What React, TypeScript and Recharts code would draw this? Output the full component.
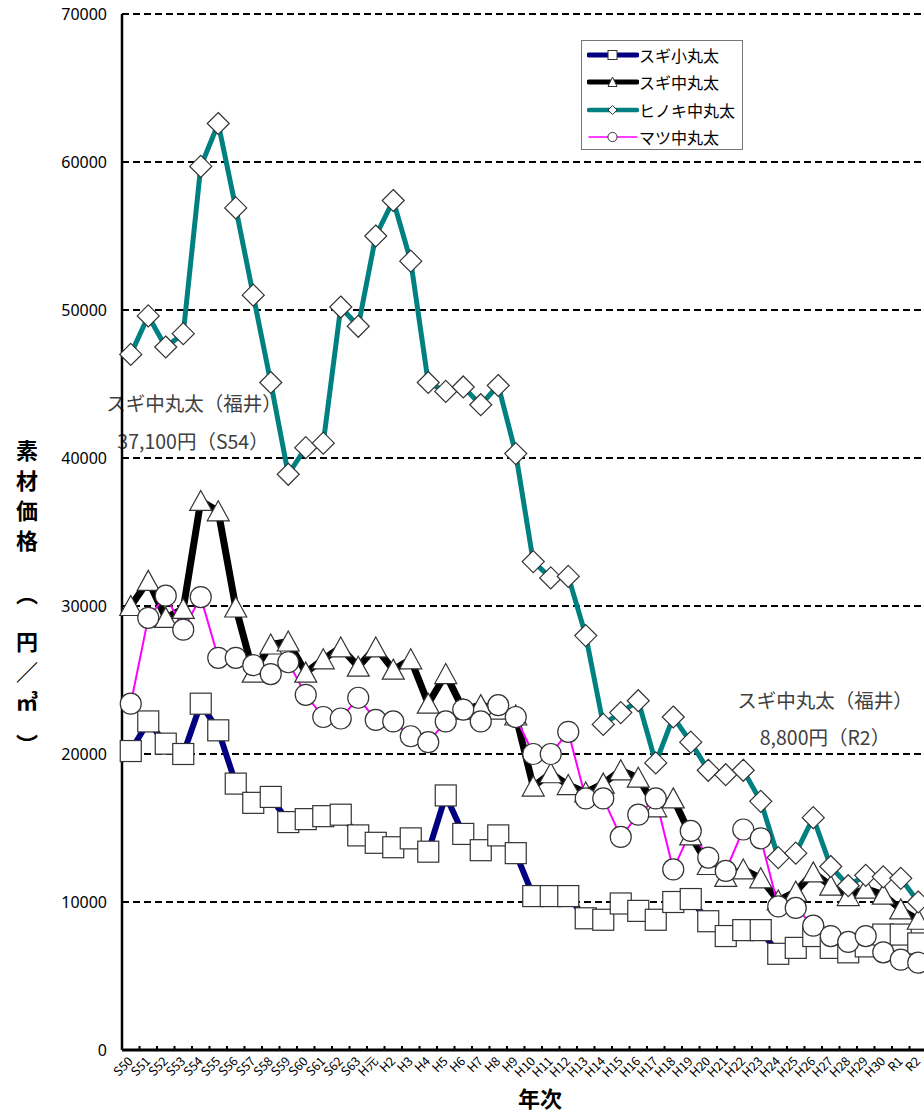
import React from "react";
import { CartesianGrid, Legend, Line, LineChart, XAxis, YAxis } from "recharts";

const FONT = '"Noto Sans CJK JP", "Noto Sans", sans-serif';

const years = [
  "S50", "S51", "S52", "S53", "S54", "S55", "S56", "S57", "S58", "S59",
  "S60", "S61", "S62", "S63", "H元", "H2", "H3", "H4", "H5", "H6",
  "H7", "H8", "H9", "H10", "H11", "H12", "H13", "H14", "H15", "H16",
  "H17", "H18", "H19", "H20", "H21", "H22", "H23", "H24", "H25", "H26",
  "H27", "H28", "H29", "H30", "R1", "R2",
];

// スギ小丸太
const sugiSmall = [
  20200, 22200, 20700, 20000, 23400, 21600, 18000, 16700, 17100, 15400,
  15600, 15800, 15900, 14500, 14000, 13700, 14300, 13400, 17200, 14600,
  13500, 14500, 13300, 10400, 10400, 10400, 8900, 8800, 9900, 9400,
  8800, 10000, 10200, 8700, 7700, 8100, 8100, 6500, 6900, 7700,
  6900, 6600, 7000, 7800, 7800, 7200,
];

// スギ中丸太
const sugiMedium = [
  30000, 31700, 29200, 29800, 37100, 36400, 29900, 25500, 27400, 27600,
  25500, 26400, 27200, 25900, 27200, 25700, 26400, 23400, 25400, 23000,
  23300, 23000, 22600, 17800, 18700, 17900, 17400, 18000, 18900, 18400,
  16400, 17000, 14500, 12500, 11700, 12200, 11600, 10100, 10700, 12000,
  11100, 10400, 10900, 10500, 9500, 8800,
];

// ヒノキ中丸太
const hinoki = [
  47000, 49600, 47500, 48400, 59700, 62600, 56900, 51000, 45100, 38900,
  40700, 41000, 50200, 48900, 55000, 57400, 53300, 45100, 44500, 44800,
  43600, 44900, 40300, 33000, 31900, 32000, 28000, 22000, 22800, 23600,
  19400, 22500, 20800, 18900, 18600, 18900, 16800, 13000, 13300, 15700,
  12400, 11100, 11800, 11700, 11600, 10000,
];

// マツ中丸太
const matsu = [
  23400, 29200, 30700, 28400, 30600, 26500, 26500, 26000, 25400, 26200,
  24000, 22500, 22400, 23800, 22300, 22200, 21200, 20800, 22200, 23000,
  22200, 23300, 22500, 20000, 20000, 21500, 17000, 17000, 14400, 15900,
  17000, 12200, 14800, 13000, 12100, 14900, 14300, 9700, 9600, 8400,
  7700, 7300, 7700, 6600, 6100, 5900,
];

const yTicks = [0, 10000, 20000, 30000, 40000, 50000, 60000, 70000];

const seriesNames = ["スギ小丸太", "スギ中丸太", "ヒノキ中丸太", "マツ中丸太"];

const data = years.map((year, i) => ({
  year,
  sugiSmall: sugiSmall[i],
  sugiMedium: sugiMedium[i],
  hinoki: hinoki[i],
  matsu: matsu[i],
}));

const HALF_BAND = 8.75;
const MARK = "#333";

const squareDot = (p: any) => (
  <rect key={`sq${p.index}`} x={p.cx - 10.5} y={p.cy - 10.5} width={21} height={21}
    fill="#fff" stroke={MARK} strokeWidth={1.2} />
);
const triangleDot = (p: any) => (
  <polygon key={`tr${p.index}`}
    points={`${p.cx},${p.cy - 10.5} ${p.cx + 11},${p.cy + 9.5} ${p.cx - 11},${p.cy + 9.5}`}
    fill="#fff" stroke={MARK} strokeWidth={1.2} />
);
const diamondDot = (p: any) => (
  <polygon key={`di${p.index}`}
    points={`${p.cx},${p.cy - 11} ${p.cx + 11},${p.cy} ${p.cx},${p.cy + 11} ${p.cx - 11},${p.cy}`}
    fill="#fff" stroke={MARK} strokeWidth={1.2} />
);
const circleDot = (p: any) => (
  <circle key={`ci${p.index}`} cx={p.cx} cy={p.cy} r={10.5}
    fill="#fff" stroke={MARK} strokeWidth={1.2} />
);

const YearTick = (props: any) => {
  const { x, y, payload } = props;
  const lx = x - HALF_BAND;
  return (
    <g>
      <line x1={lx} y1={y - 4} x2={lx} y2={y} stroke="#000" strokeWidth={2} />
      <text x={x + 3} y={y + 12} textAnchor="end" fontSize={12.5} fontFamily={FONT}
        fill="#000" transform={`rotate(-45, ${x + 3}, ${y + 12})`}>
        {payload.value}
      </text>
    </g>
  );
};

const legendItems = [
  { name: seriesNames[0], color: "#000080", width: 5, shape: "square" },
  { name: seriesNames[1], color: "#000000", width: 5, shape: "triangle" },
  { name: seriesNames[2], color: "#008080", width: 4.5, shape: "diamond" },
  { name: seriesNames[3], color: "#ff00ff", width: 1.5, shape: "circle" },
];

const LegendMarker = ({ shape }: { shape: string }) => {
  if (shape === "square") return <rect x={21} y={5.5} width={9} height={9} fill="#fff" stroke={MARK} />;
  if (shape === "triangle") return <polygon points="25.5,5 30,14.5 21,14.5" fill="#fff" stroke={MARK} />;
  if (shape === "diamond") return <polygon points="25.5,5.5 30,10 25.5,14.5 21,10" fill="#fff" stroke={MARK} />;
  return <circle cx={25.5} cy={10} r={4.6} fill="#fff" stroke={MARK} />;
};

const LegendBox = () => (
  <div style={{ width: 162, height: 110, border: "1px solid #777", background: "#fff",
    boxSizing: "border-box", paddingTop: 0, fontFamily: FONT }}>
    {legendItems.map((it) => (
      <div key={it.name} style={{ display: "flex", alignItems: "center", height: 27.5 }}>
        <svg width={52} height={20} style={{ marginLeft: 5 }}>
          <line x1={2} y1={10} x2={50} y2={10} stroke={it.color} strokeWidth={it.width}
            strokeLinecap="round" />
          <LegendMarker shape={it.shape} />
        </svg>
        <span style={{ fontSize: 16, color: "#000", whiteSpace: "nowrap" }}>{it.name}</span>
      </div>
    ))}
  </div>
);

const noteStyle = (cx: number, cy: number): React.CSSProperties => ({
  position: "absolute", left: cx - 150, top: cy - 14, width: 300, height: 28,
  lineHeight: "28px", textAlign: "center", fontSize: 19.5, color: "#404040",
  fontFamily: FONT, whiteSpace: "nowrap",
});

// vertical axis title, one glyph per row (centre y)
const yTitle = [
  { ch: "素", y: 451 }, { ch: "材", y: 481 }, { ch: "価", y: 511 }, { ch: "格", y: 541 },
  { ch: "︵", y: 594 }, { ch: "円", y: 642 }, { ch: "／", y: 672 }, { ch: "㎥", y: 702 },
  { ch: "︶", y: 745 },
];

export default function App() {
  return (
    <div style={{ position: "absolute", left: 0, top: 0, width: 924, height: 1112,
      overflow: "hidden", background: "#fff" }}>
      <div style={noteStyle(194, 403)}>スギ中丸太（福井）</div>
      <div style={noteStyle(193, 441)}>37,100円（S54）</div>
      <div style={noteStyle(825, 700)}>スギ中丸太（福井）</div>
      <div style={noteStyle(825, 737)}>8,800円（R2）</div>
      <svg width={50} height={1112} style={{ position: "absolute", left: 2, top: 0 }}>
        <text fontSize={22} fontWeight="bold" fontFamily={FONT} fill="#000" textAnchor="middle">
          {yTitle.map((t) => (
            <tspan key={t.ch} x={25} y={t.y + 8}>{t.ch}</tspan>
          ))}
        </text>
      </svg>
      <div style={{ position: "absolute", left: 490, top: 1082, width: 100, height: 30,
        lineHeight: "30px", textAlign: "center", fontSize: 22, fontWeight: "bold",
        fontFamily: FONT, color: "#000" }}>年次</div>
      <div style={{ position: "absolute", left: 0, top: 0 }}>
        <LineChart width={930} height={1112} data={data}
          margin={{ top: 14, right: 3, bottom: 0, left: 0 }}>
          <CartesianGrid vertical={false} stroke="#000" strokeWidth={2} strokeDasharray="7 4" />
          <XAxis dataKey="year" scale="point" padding={{ left: HALF_BAND, right: HALF_BAND }}
            height={62} interval={0} tickLine={false} tickSize={0} tickMargin={0}
            axisLine={{ stroke: "#000", strokeWidth: 3 }} tick={<YearTick />} />
          <YAxis width={122} domain={[0, 70000]} ticks={yTicks} interval={0}
            allowDataOverflow tickLine={false} tickSize={0} tickMargin={15}
            axisLine={{ stroke: "#000", strokeWidth: 2.5 }}
            tick={{ fill: "#000", fontSize: 16, fontFamily: '"Noto Sans", sans-serif' }} />
          <Legend layout="vertical" align="center" verticalAlign="middle"
            wrapperStyle={{ position: "absolute", left: 581, top: 40, width: 162, height: 110 }}
            content={() => <LegendBox />} />
          <Line type="linear" dataKey="sugiSmall" name={seriesNames[0]} stroke="#000080"
            strokeWidth={6} dot={squareDot} activeDot={false} isAnimationActive={false} />
          <Line type="linear" dataKey="sugiMedium" name={seriesNames[1]} stroke="#000000"
            strokeWidth={7} dot={triangleDot} activeDot={false} isAnimationActive={false} />
          <Line type="linear" dataKey="hinoki" name={seriesNames[2]} stroke="#008080"
            strokeWidth={5} dot={diamondDot} activeDot={false} isAnimationActive={false} />
          <Line type="linear" dataKey="matsu" name={seriesNames[3]} stroke="#ff00ff"
            strokeWidth={2} dot={circleDot} activeDot={false} isAnimationActive={false} />
        </LineChart>
      </div>
    </div>
  );
}
